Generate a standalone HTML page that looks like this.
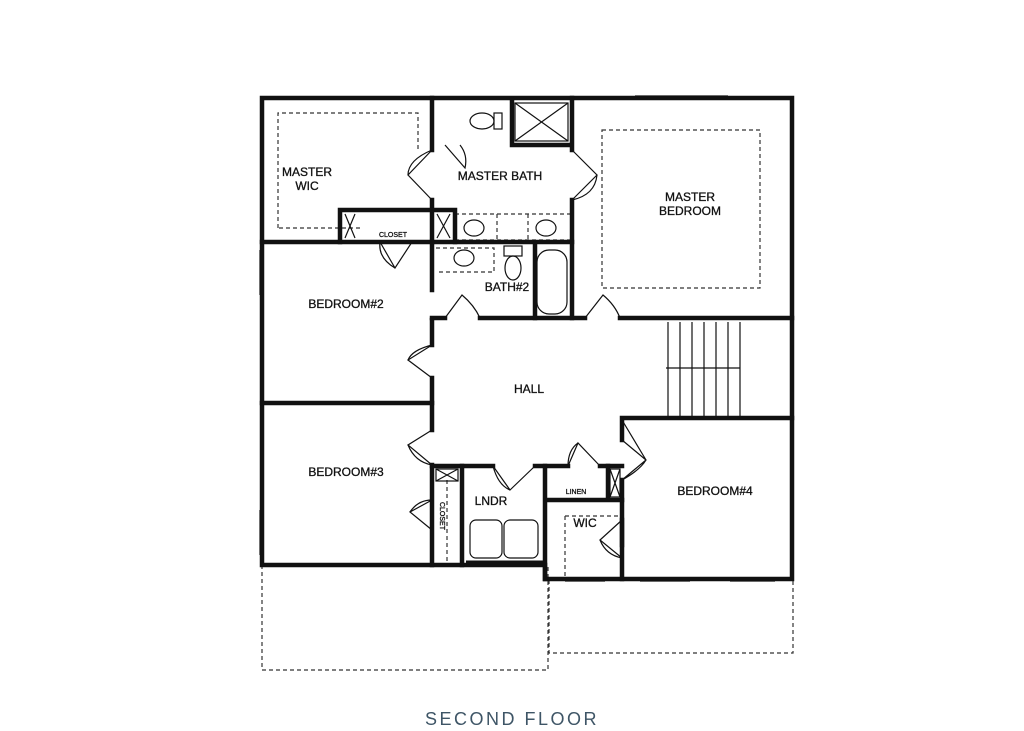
<!DOCTYPE html>
<html><head><style>
html,body{margin:0;padding:0;background:#fff;}
svg{display:block;}
text{font-family:"Liberation Sans",sans-serif;fill:#111;}
</style></head><body>
<svg width="1024" height="731" viewBox="0 0 1024 731" xmlns="http://www.w3.org/2000/svg">
<g fill="none" stroke="#333" stroke-width="1.2" stroke-dasharray="4,3">
<rect x="262" y="566" width="286" height="104"/>
<rect x="549" y="580" width="244" height="73"/>
<rect x="602" y="130" width="158" height="158"/>
<path d="M278 228 V113 H418 V150"/>
<path d="M360 228 H278"/>
<path d="M455 214 H570 M455 240 H570 M497 214 V240 M528 214 V240"/>
<path d="M436 248 H494 V272 H436"/>
<path d="M565 516 H622 M565 516 V578"/>
<path d="M447 480 V562"/>
</g>
<g stroke="#111" stroke-width="4.5" fill="none" stroke-linecap="square">
<path d="M262 98 H792 V579 H545 V565 H262 Z"/>
<path d="M432 98 V150 M432 200 V242"/>
<path d="M262 242 H572"/>
<path d="M340 210 H455 V242 M340 210 V242"/>
<path d="M432 242 V290 M432 320 V345 M432 378 V430 M432 465 V565"/>
<path d="M512 100 V145 H572 M572 98 V150 M572 200 V318"/>
<path d="M262 403 H432"/>
<path d="M432 318 H445 M480 318 H585 M620 318 H792"/>
<path d="M535 244 V318"/>
<path d="M622 418 H792 M622 418 V440 M622 480 V579"/>
<path d="M432 466 H493 M535 466 H568 M600 466 H622"/>
<path d="M462 466 V565 M545 466 V579 M545 500 H622 M608 466 V500"/>
<path d="M622 520 V545"/>
</g>
<g stroke="#111" stroke-width="1.2" fill="none">
<path d="M635 96 H728 M793 345 V392 M260 250 V295 M260 510 V555 M565 581 H605 M640 581 H690 M730 581 H775"/>
<rect x="515" y="103" width="53" height="38"/><path d="M515 103 L568 141 M568 103 L515 141"/>
<ellipse cx="482" cy="121" rx="12" ry="8"/><rect x="494" y="113" width="8" height="16"/>
<ellipse cx="474" cy="228" rx="10" ry="8"/><ellipse cx="546" cy="228" rx="10" ry="8"/>
<ellipse cx="464" cy="258" rx="10" ry="8"/>
<rect x="504" y="246" width="18" height="10"/><ellipse cx="513" cy="268" rx="8" ry="12"/>
<rect x="537" y="250" width="30" height="64" rx="12"/>
<path d="M345 214 L355 238 M355 214 L345 238 M437 214 L450 238 M450 214 L437 238"/>
<rect x="436" y="469" width="22" height="12"/><path d="M436 469 L458 481 M458 469 L436 481"/>
<rect x="610" y="469" width="10" height="28"/><path d="M610 469 L620 497 M620 469 L610 497"/>
<rect x="470" y="520" width="32" height="38" rx="6"/><rect x="504" y="520" width="34" height="38" rx="6"/>
<path d="M466 562 H543" stroke-width="3"/>
<path d="M668 322 V416 M680 322 V416 M692 322 V416 M704 322 V416 M716 322 V416 M728 322 V416 M740 322 V416 M666 368 H740"/>
<path d="M432 150 L408 175 L432 200 M432 150 Q408 160 408 175"/>
<path d="M572 150 L597 175 L572 200 M597 175 Q595 195 572 200"/>
<path d="M445 145 L465 168 Q468 155 460 145"/>
<path d="M380 242 L395 268 L412 242 M380 242 Q378 258 395 268"/>
<path d="M445 318 L462 295 Q474 305 480 318"/>
<path d="M585 318 L603 295 Q615 305 620 318"/>
<path d="M432 345 L408 360 L432 378 M432 345 Q412 350 408 360"/>
<path d="M432 430 L408 445 L432 465 M408 445 Q415 462 432 465"/>
<path d="M493 466 L510 490 L535 466 M493 466 Q498 485 510 490"/>
<path d="M568 466 L578 443 L600 466 M578 443 Q568 450 568 466"/>
<path d="M622 440 L646 460 L622 480 M646 460 Q640 470 622 480 M622 420 L646 460"/>
<path d="M432 500 L410 512 L432 530 M410 512 Q418 500 432 500"/>
<path d="M622 520 L600 540 L622 558 M600 540 Q606 555 622 558"/>
</g>
<g font-size="12" text-anchor="middle" stroke="#111" stroke-width="0.3">
<text x="307" y="176">MASTER</text><text x="307" y="190">WIC</text>
<text x="500" y="180">MASTER BATH</text>
<text x="690" y="201">MASTER</text><text x="690" y="215">BEDROOM</text>
<text x="346" y="308">BEDROOM#2</text>
<text x="507" y="291">BATH#2</text>
<text x="529" y="393">HALL</text>
<text x="346" y="476">BEDROOM#3</text>
<text x="715" y="495">BEDROOM#4</text>
<text x="491" y="505">LNDR</text>
<text x="585" y="527">WIC</text>
<text x="393" y="237" font-size="7">CLOSET</text>
<text x="576" y="494" font-size="7">LINEN</text>
<text x="440" y="516" font-size="7" transform="rotate(90 440 516)">CLOSET</text>
</g>
<text x="512" y="725" text-anchor="middle" font-size="18" style="fill:#3e5566;letter-spacing:2.5px">SECOND FLOOR</text>
</svg>
</body></html>
